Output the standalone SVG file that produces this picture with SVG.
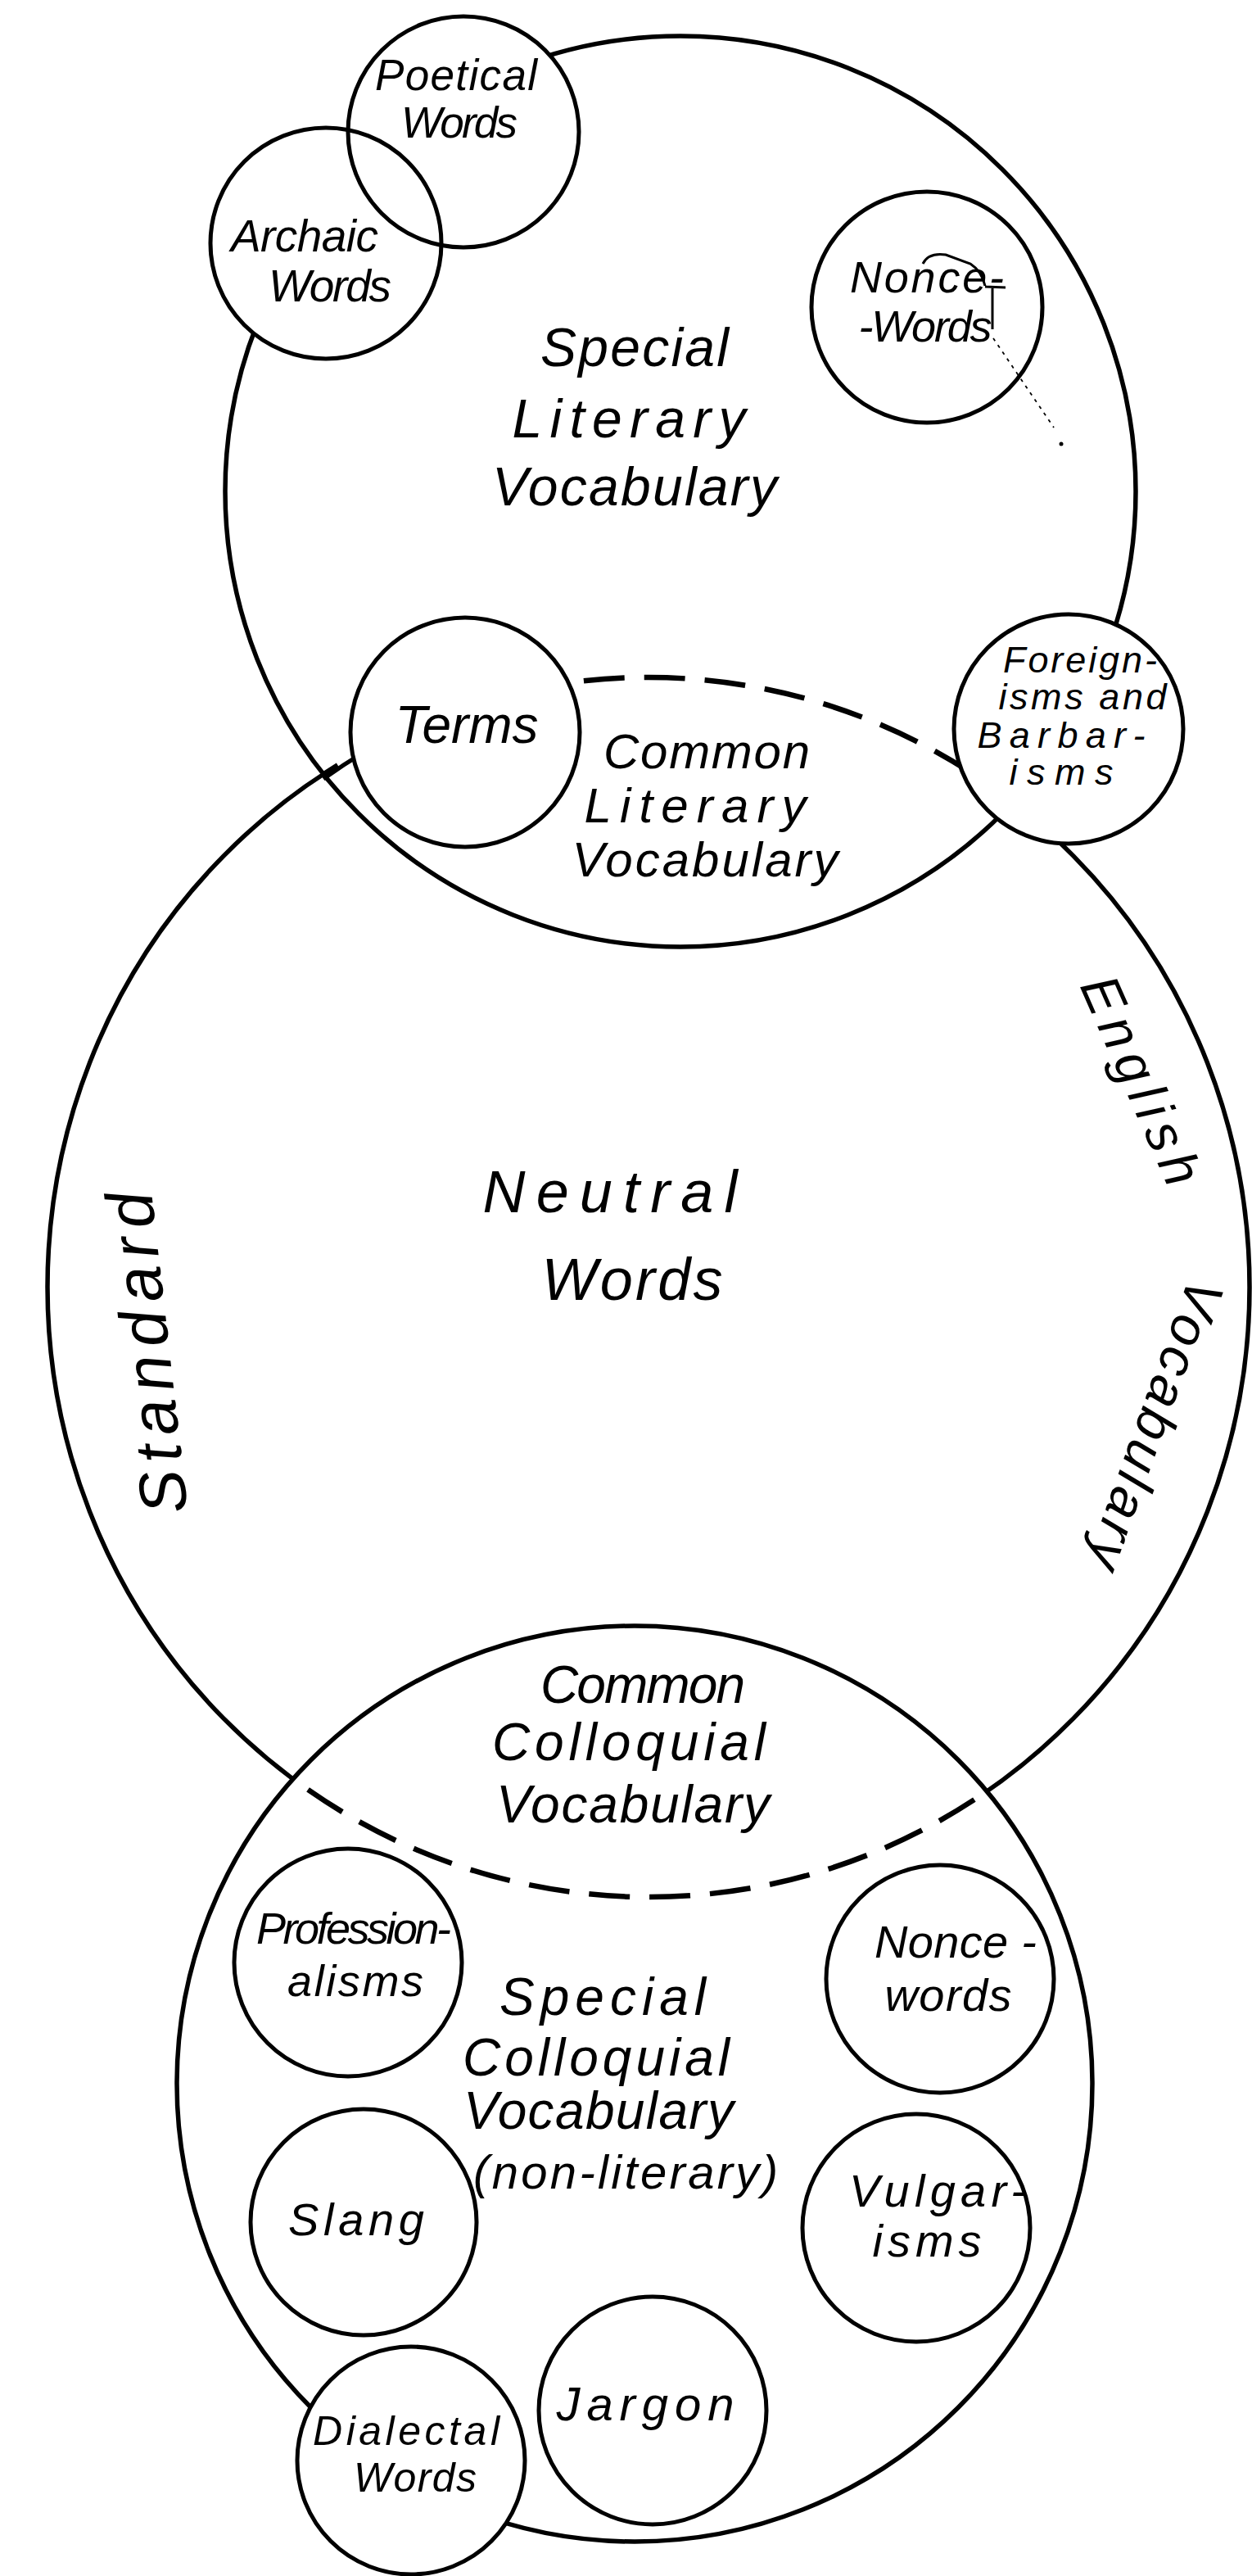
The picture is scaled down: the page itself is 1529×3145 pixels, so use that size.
<svg xmlns="http://www.w3.org/2000/svg" width="1529" height="3145" viewBox="0 0 1529 3145">
<style>
.c{fill:none;stroke:#000;stroke-width:5}
.w{fill:#fff;stroke:#000;stroke-width:5}
.big{fill:#fff;stroke:#000;stroke-width:5.5}
.k{fill:#fff;stroke:none}
.dash{fill:none;stroke:#000;stroke-width:6.5;stroke-dasharray:50 24}
text{font-family:"Liberation Sans","DejaVu Sans",sans-serif;font-style:italic;fill:#000;text-anchor:middle}
</style>
<defs>
<clipPath id="clipTop"><circle cx="831" cy="600" r="556"/></clipPath>
<clipPath id="clipBot"><circle cx="775" cy="2544" r="559"/></clipPath>
</defs>
<rect width="1529" height="3145" fill="#fff"/>

<g id="standard-english-vocabulary">
<ellipse class="big" cx="792" cy="1571.5" rx="734" ry="744.5"/>
<text x="207" y="1649" font-size="80" textLength="395" lengthAdjust="spacing" transform="rotate(-96.5 207 1649)">Standard</text>
<text x="1373" y="1328" font-size="66" textLength="272" lengthAdjust="spacing" transform="rotate(66.3 1373 1328)">English</text>
<text x="1390" y="1732" font-size="66" textLength="372" lengthAdjust="spacing" transform="rotate(109.8 1390 1732)">Vocabulary</text>
</g>

<g id="special-literary-vocabulary">
<circle class="big" cx="831" cy="600" r="556"/>
<text x="775" y="447" font-size="66" textLength="230" lengthAdjust="spacing">Special</text>
<text x="768" y="534" font-size="66" textLength="285" lengthAdjust="spacing">Literary</text>
<text x="775" y="617" font-size="66" textLength="348" lengthAdjust="spacing">Vocabulary</text>
</g>

<g id="special-colloquial-vocabulary">
<circle class="big" cx="775" cy="2544" r="559"/>
<text x="736" y="2460" font-size="64" textLength="252" lengthAdjust="spacing">Special</text>
<text x="728" y="2534" font-size="64" textLength="326" lengthAdjust="spacing">Colloquial</text>
<text x="731" y="2599" font-size="64" textLength="330" lengthAdjust="spacing">Vocabulary</text>
<text x="764" y="2672" font-size="58" textLength="372" lengthAdjust="spacing">(non-literary)</text>
</g>

<g id="common-literary-vocabulary">
<ellipse class="dash" cx="792" cy="1571.5" rx="734" ry="744.5" clip-path="url(#clipTop)"/>
<path class="c" d="M395,951 A734,744.5 0 0 1 445,918"/>
<text x="863" y="938" font-size="60" textLength="252" lengthAdjust="spacing">Common</text>
<text x="849" y="1004" font-size="60" textLength="271" lengthAdjust="spacing">Literary</text>
<text x="861" y="1070" font-size="60" textLength="325" lengthAdjust="spacing">Vocabulary</text>
</g>

<g id="common-colloquial-vocabulary">
<ellipse class="dash" cx="792" cy="1571.5" rx="734" ry="744.5" clip-path="url(#clipBot)"/>
<text x="785" y="2079" font-size="64" textLength="250" lengthAdjust="spacing">Common</text>
<text x="768" y="2149" font-size="64" textLength="334" lengthAdjust="spacing">Colloquial</text>
<text x="773" y="2225" font-size="64" textLength="334" lengthAdjust="spacing">Vocabulary</text>
</g>

<g id="neutral-words">
<text x="745" y="1480" font-size="72" textLength="311" lengthAdjust="spacing">Neutral</text>
<text x="772" y="1587" font-size="72" textLength="221" lengthAdjust="spacing">Words</text>
</g>

<g id="knockouts">
<circle class="k" cx="566" cy="161" r="141"/>
<circle class="k" cx="398" cy="297" r="141"/>
</g>

<g id="poetical-words">
<circle class="c" cx="566" cy="161" r="141"/>
<text x="557" y="110" font-size="53" textLength="198" lengthAdjust="spacing">Poetical</text>
<text x="561" y="168" font-size="53" textLength="142" lengthAdjust="spacing">Words</text>
</g>

<g id="archaic-words">
<circle class="c" cx="398" cy="297" r="141"/>
<text x="372" y="307" font-size="55" textLength="180" lengthAdjust="spacing">Archaic</text>
<text x="403" y="368" font-size="55" textLength="150" lengthAdjust="spacing">Words</text>
</g>

<g id="nonce-words-literary">
<circle class="w" cx="1132" cy="375" r="141"/>
<text x="1132" y="357" font-size="54" textLength="188" lengthAdjust="spacing">Nonce-</text>
<text x="1130" y="417" font-size="54" textLength="163" lengthAdjust="spacing">-Words</text>
</g>

<g id="terms">
<circle class="w" cx="568" cy="894" r="140"/>
<text x="570" y="907" font-size="64" textLength="175" lengthAdjust="spacing">Terms</text>
</g>

<g id="foreignisms-and-barbarisms">
<circle class="w" cx="1305" cy="890" r="140"/>
<text x="1319" y="821" font-size="45" textLength="188" lengthAdjust="spacing">Foreign-</text>
<text x="1322" y="866" font-size="45" textLength="205" lengthAdjust="spacing">isms and</text>
<text x="1296" y="913" font-size="45" textLength="205" lengthAdjust="spacing">Barbar-</text>
<text x="1296" y="958" font-size="45" textLength="127" lengthAdjust="spacing">isms</text>
</g>

<g id="professionalisms">
<circle class="w" cx="425" cy="2396" r="139"/>
<text x="432" y="2373" font-size="54" textLength="238" lengthAdjust="spacing">Profession-</text>
<text x="434" y="2437" font-size="54" textLength="166" lengthAdjust="spacing">alisms</text>
</g>

<g id="nonce-words-colloquial">
<circle class="w" cx="1148" cy="2416" r="139"/>
<text x="1167" y="2390" font-size="56" textLength="198" lengthAdjust="spacing">Nonce -</text>
<text x="1158" y="2455" font-size="56" textLength="155" lengthAdjust="spacing">words</text>
</g>

<g id="slang">
<circle class="w" cx="444" cy="2713" r="138"/>
<text x="435" y="2729" font-size="56" textLength="166" lengthAdjust="spacing">Slang</text>
</g>

<g id="vulgarisms">
<circle class="w" cx="1119" cy="2720" r="139"/>
<text x="1145" y="2694" font-size="56" textLength="216" lengthAdjust="spacing">Vulgar-</text>
<text x="1132" y="2755" font-size="56" textLength="133" lengthAdjust="spacing">isms</text>
</g>

<g id="jargon">
<circle class="w" cx="797" cy="2943" r="139"/>
<text x="788" y="2955" font-size="58" textLength="217" lengthAdjust="spacing">Jargon</text>
</g>

<g id="dialectal-words">
<circle class="w" cx="502" cy="3004" r="139"/>
<text x="496" y="2985" font-size="50" textLength="228" lengthAdjust="spacing">Dialectal</text>
<text x="507" y="3042" font-size="50" textLength="150" lengthAdjust="spacing">Words</text>
</g>

<g id="connectors">
<path d="M1127,322 Q1134,308 1155,311 L1185,322 Q1199,331 1203,349 M1203,350 L1228,351 M1212,352 L1212,402" fill="none" stroke="#000" stroke-width="3"/>
<path d="M1213,413 L1287,522" fill="none" stroke="#000" stroke-width="1.8" stroke-dasharray="4 6"/>
<circle cx="1296" cy="542" r="2.5" fill="#000"/>
</g>
</svg>
